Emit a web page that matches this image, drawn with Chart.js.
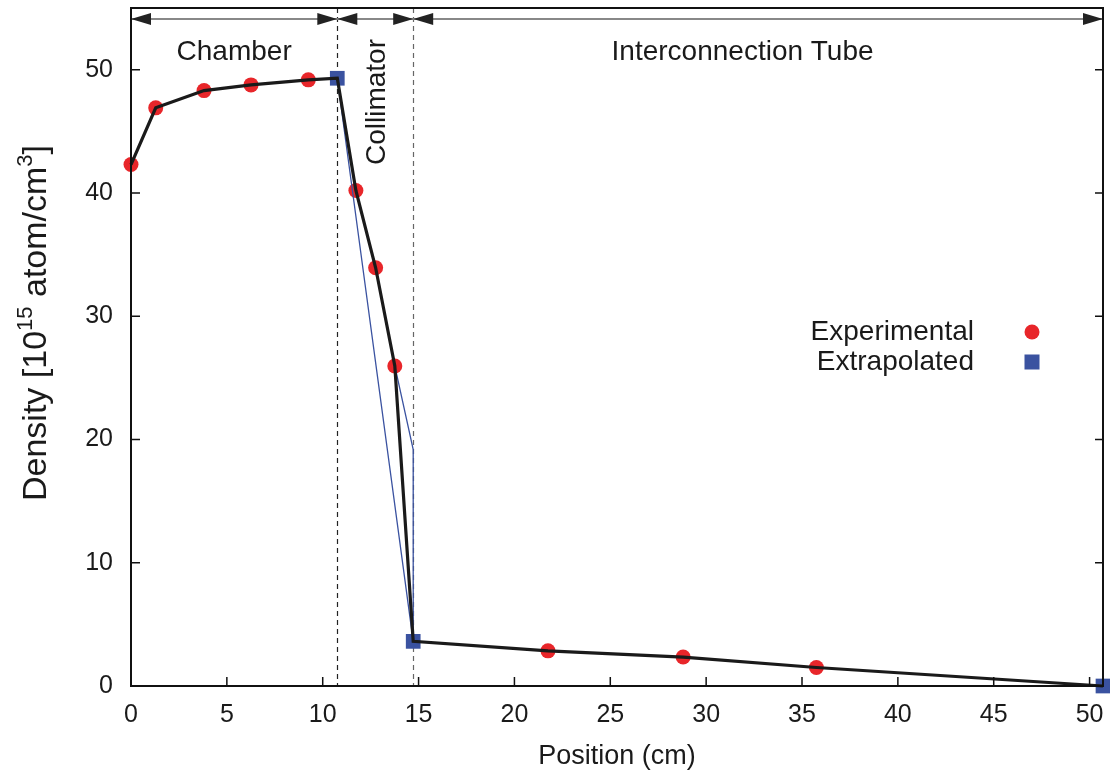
<!DOCTYPE html>
<html>
<head>
<meta charset="utf-8">
<script src="https://cdn.jsdelivr.net/npm/chart.js@4.4.0/dist/chart.umd.min.js"></script>
<style>
  html, body { margin: 0; padding: 0; background: #fff; }
  #wrap { width: 1110px; height: 773px; }
</style>
</head>
<body>
<div id="wrap"><canvas id="graph" width="1110" height="773"></canvas></div>
<script>
// measured points
const expX = [0, 1.29, 3.81, 6.26, 9.25, 11.73, 12.76, 13.76, 21.75, 28.8, 35.75];
const expY = [42.3, 46.9, 48.3, 48.76, 49.17, 40.2, 33.93, 25.96, 2.85, 2.35, 1.5];
// extrapolated points
const extX = [10.76, 14.72, 50.7];
const extY = [49.3, 3.62, 0];
// thin blue construction line
const fitX = [10.76, 14.72, 14.72, 13.76];
const fitY = [49.3, 3.62, 19.18, 25.96];

const xTicks = [0, 5, 10, 15, 20, 25, 30, 35, 40, 45, 50];
const yTicks = [0, 10, 20, 30, 40, 50];

const regionNames = ['Chamber', 'Collimator', 'Interconnection Tube'];
const regionEdges = [0, 10.76, 14.72, 50.7];
const regionLabelX = [5.38, 12.74, 31.9];

const FONT = "'Liberation Sans', Arial, Helvetica, sans-serif";
const INK = '#1a1a1a';
const RED = '#e8262a';
const BLUE = '#3a52a0';

const toPts = (xs, ys) => xs.map((x, i) => ({ x: x, y: ys[i] }));
const allPts = toPts(expX, expY).concat(toPts(extX, extY)).sort((a, b) => a.x - b.x);

// markers may hang over the frame, don't let them push the plot area in
Chart.registry.getController('scatter').prototype.getMaxOverflow = function () { return 0; };

function noPad(s) {
    s.paddingTop = 0;
    s.paddingBottom = 0;
    s.paddingLeft = 0;
    s.paddingRight = 0;
}

const decor = {
    id: 'decor',
    beforeDatasetsDraw(chart) {
        const { ctx, chartArea: a, scales: { x } } = chart;
        ctx.save();
        // dashed boundaries
        ctx.lineWidth = 1.2;
        ctx.setLineDash([5, 4]);
        [regionEdges[1], regionEdges[2]].forEach((v, i) => {
            const px = Math.round(x.getPixelForValue(v)) + 0.5;
            ctx.strokeStyle = i === 0 ? '#222' : '#666';
            ctx.beginPath();
            ctx.moveTo(px, a.top);
            ctx.lineTo(px, a.bottom);
            ctx.stroke();
        });
        ctx.setLineDash([]);

        // arrows across the top
        const ay = a.top + 11;
        ctx.strokeStyle = '#888';
        ctx.lineWidth = 2;
        ctx.beginPath();
        ctx.moveTo(a.left, ay);
        ctx.lineTo(a.right, ay);
        ctx.stroke();
        ctx.fillStyle = '#222';
        const head = (tip, dir) => {
            ctx.beginPath();
            ctx.moveTo(tip, ay);
            ctx.lineTo(tip - dir * 20, ay - 6);
            ctx.lineTo(tip - dir * 20, ay + 6);
            ctx.closePath();
            ctx.fill();
        };
        for (let i = 0; i < regionNames.length; i++) {
            head(x.getPixelForValue(regionEdges[i]), -1);
            head(x.getPixelForValue(regionEdges[i + 1]), 1);
        }

        // region names
        ctx.fillStyle = INK;
        ctx.font = '28px ' + FONT;
        ctx.textAlign = 'center';
        ctx.textBaseline = 'alphabetic';
        ctx.fillText(regionNames[0], x.getPixelForValue(regionLabelX[0]), a.top + 52);
        ctx.fillText(regionNames[2], x.getPixelForValue(regionLabelX[2]), a.top + 52);
        ctx.save();
        ctx.translate(x.getPixelForValue(regionLabelX[1]) + 10, a.top + 94);
        ctx.rotate(-Math.PI / 2);
        ctx.fillText(regionNames[1], 0, 0);
        ctx.restore();
        ctx.restore();
    },
    afterDraw(chart) {
        const { ctx, chartArea: a, scales: { x, y } } = chart;
        ctx.save();
        // frame
        ctx.strokeStyle = '#111';
        ctx.lineWidth = 2;
        ctx.strokeRect(a.left, a.top, a.right - a.left, a.bottom - a.top);
        // inward ticks
        ctx.lineWidth = 1.5;
        ctx.beginPath();
        xTicks.forEach(v => {
            const px = x.getPixelForValue(v);
            ctx.moveTo(px, a.bottom);
            ctx.lineTo(px, a.bottom - 9);
        });
        yTicks.forEach(v => {
            const py = y.getPixelForValue(v);
            ctx.moveTo(a.left, py);
            ctx.lineTo(a.left + 9, py);
            ctx.moveTo(a.right, py);
            ctx.lineTo(a.right - 8, py);
        });
        ctx.stroke();

        // legend: text on the left, marker on the right
        const items = chart.data.datasets.filter(d => d.inLegend);
        ctx.font = '28px ' + FONT;
        ctx.textAlign = 'right';
        ctx.textBaseline = 'middle';
        items.forEach((d, i) => {
            const ly = 332 + i * 30;
            ctx.fillStyle = INK;
            ctx.fillText(d.label, 974, ly);
            ctx.fillStyle = d.backgroundColor;
            if (d.pointStyle === 'rect') {
                ctx.fillRect(1032 - 7.5, ly - 7.5, 15, 15);
            } else {
                ctx.beginPath();
                ctx.arc(1032, ly, 7.5, 0, Math.PI * 2);
                ctx.fill();
            }
        });

        // y axis title with superscripts
        const parts = [['Density [10', false], ['15', true], [' atom/cm', false], ['3', true], [']', false]];
        const big = '34px ' + FONT, small = '22px ' + FONT;
        let total = 0;
        parts.forEach(p => { ctx.font = p[1] ? small : big; total += ctx.measureText(p[0]).width; });
        ctx.translate(46, 323);
        ctx.rotate(-Math.PI / 2);
        ctx.textAlign = 'left';
        ctx.textBaseline = 'alphabetic';
        ctx.fillStyle = INK;
        let cx = -total / 2;
        parts.forEach(p => {
            ctx.font = p[1] ? small : big;
            ctx.fillText(p[0], cx, p[1] ? -14 : 0);
            cx += ctx.measureText(p[0]).width;
        });
        ctx.restore();
    }
};

new Chart(document.getElementById('graph'), {
    type: 'scatter',
    data: {
        datasets: [{
            label: 'fit',
            data: allPts,
            showLine: true,
            borderColor: INK,
            borderWidth: 3.2,
            pointRadius: 0,
            fill: false,
            clip: false,
            order: 0
        }, {
            label: 'construction',
            data: toPts(fitX, fitY),
            showLine: true,
            borderColor: BLUE,
            borderWidth: 1.3,
            pointRadius: 0,
            fill: false,
            clip: false,
            order: 1
        }, {
            label: 'Experimental',
            inLegend: true,
            data: toPts(expX, expY),
            backgroundColor: RED,
            borderWidth: 0,
            pointRadius: 7.5,
            pointStyle: 'circle',
            clip: false,
            order: 3
        }, {
            label: 'Extrapolated',
            inLegend: true,
            data: toPts(extX, extY),
            backgroundColor: BLUE,
            borderWidth: 0,
            pointRadius: 10.4,
            pointStyle: 'rect',
            clip: false,
            order: 2
        }]
    },
    options: {
        responsive: false,
        animation: false,
        devicePixelRatio: 1,
        layout: { padding: { top: 8, right: 7, left: 0, bottom: 0 } },
        plugins: {
            legend: { display: false },
            tooltip: { enabled: false }
        },
        scales: {
            x: {
                type: 'linear',
                min: 0,
                max: 50.7,
                grid: { display: false, drawTicks: false },
                border: { display: false },
                afterBuildTicks: s => { s.ticks = xTicks.map(v => ({ value: v })); },
                afterFit: s => { s.height = 87; noPad(s); },
                ticks: { padding: 14, color: INK, font: { family: FONT, size: 25 }, maxRotation: 0, autoSkip: false },
                title: {
                    display: true,
                    text: 'Position (cm)',
                    color: INK,
                    font: { family: FONT, size: 27 },
                    padding: { top: 0, bottom: 0 }
                }
            },
            y: {
                type: 'linear',
                min: 0,
                max: 55,
                grid: { display: false, drawTicks: false },
                border: { display: false },
                afterBuildTicks: s => { s.ticks = yTicks.map(v => ({ value: v })); },
                afterFit: s => { s.width = 131; noPad(s); },
                ticks: { padding: 18, color: INK, font: { family: FONT, size: 25 } }
            }
        }
    },
    plugins: [decor]
});
</script>
</body>
</html>
